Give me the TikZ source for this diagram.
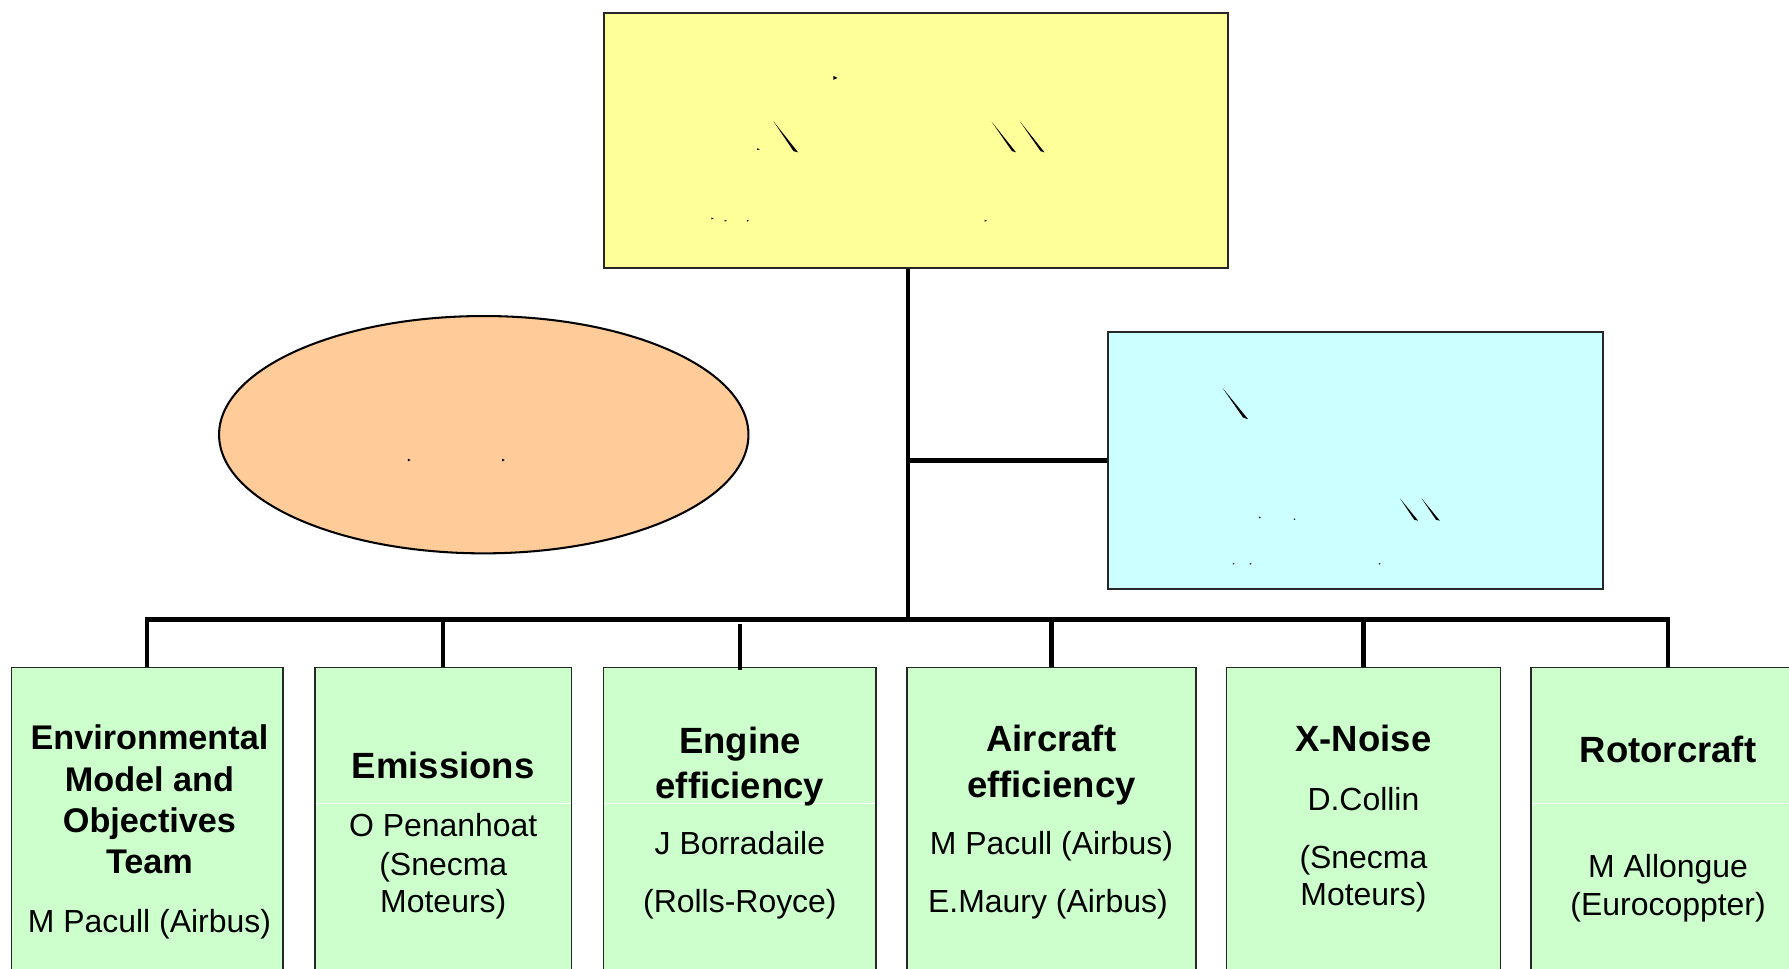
\documentclass[tikz,border=0pt]{standalone}
\usepackage{fontspec}
\setmainfont{Liberation Sans}
\usetikzlibrary{shapes.geometric,fit,calc}
\definecolor{boardyellow}{RGB}{255,255,153}
\definecolor{advisorycyan}{RGB}{204,255,255}
\definecolor{forumpeach}{RGB}{255,204,153}
\definecolor{teamgreen}{RGB}{204,255,204}
\begin{document}
\begin{tikzpicture}[x=0.5pt,y=-0.5pt,
  conn/.style={line width=1.9pt, line join=miter},
  panel/.style={draw=black!85, line width=0.9pt, inner sep=0pt},
  team/.style={draw=black!85, line width=0.7pt, fill=teamgreen, inner sep=0pt},
  title/.style={font=\bfseries\fontsize{16}{19}\selectfont, anchor=base, inner sep=0pt},
  titlesmall/.style={font=\bfseries\fontsize{15}{18}\selectfont, anchor=base, inner sep=0pt},
  person/.style={font=\fontsize{14}{17}\selectfont, anchor=base, inner sep=0pt},
  sepline/.style={draw=white, line width=0.6pt},
  glyphbit/.style={fill=black}]
\useasboundingbox (0,0) rectangle (1568,849);
\clip (0,0) rectangle (1568,849);

% upper level: board, forum and advisory group
\node[panel, fill=boardyellow, fit={(529,11)(1076,235)}] (board) {};
\node[panel, fill=advisorycyan, fit={(971,291)(1405,516)}] (advisory) {};
\node[ellipse, draw=black, line width=0.9pt, fill=forumpeach, inner sep=0pt,
      minimum width=232pt, minimum height=104pt] (forum) at (424,381) {};

% stray glyph fragments inside the upper shapes
\fill[glyphbit] (730.5,66.5) -- (734,68.3) -- (730.5,70) -- cycle;
\fill[glyphbit] (663.5,130) -- (666,130.8) -- (663.5,131.6) -- cycle;
\fill[glyphbit] (678,106.5) -- (699.5,133.5) -- (695.5,132.5) -- cycle;
\fill[glyphbit] (869,106.5) -- (890.5,133.5) -- (887,132.5) -- cycle;
\fill[glyphbit] (894,106.5) -- (915.5,133.5) -- (912,132.5) -- cycle;
\foreach \gx/\gy in {623.5/191.5, 635/193.5, 654.5/193.5, 863/193.5}
  \fill[glyphbit] (\gx,\gy-0.8) -- (\gx+2,\gy) -- (\gx,\gy+0.8) -- cycle;
\fill[glyphbit] (1071.5,340) -- (1094,367.5) -- (1089.5,366) -- cycle;
\fill[glyphbit] (1227,436.8) -- (1243,456.4) -- (1239.5,455.5) -- cycle;
\fill[glyphbit] (1246,436.8) -- (1262,456.4) -- (1258.5,455.5) -- cycle;
\foreach \gx/\gy in {1103.5/453.5, 1134/455, 1080.5/494.2, 1095.5/494.2, 1208.5/494.2}
  \fill[glyphbit] (\gx,\gy-0.7) -- (\gx+1.6,\gy) -- (\gx,\gy+0.7) -- cycle;
\foreach \gx in {357.5, 440}
  \fill[glyphbit] (\gx,402) -- (\gx+2.5,403.2) -- (\gx,404.4) -- cycle;

% working groups
\node[team, fit={(10,585)(248,880)}] (b1) {};
\node[team, fit={(276,585)(501,880)}] (b2) {};
\node[team, fit={(529,585)(768,880)}] (b3) {};
\node[team, fit={(795,585)(1048,880)}] (b4) {};
\node[team, fit={(1075,585)(1315,880)}] (b5) {};
\node[team, fit={(1342,585)(1582,880)}] (b6) {};

% thin separators under some titles
\coordinate (sepy) at (0,704);
\foreach \b in {b2,b3,b6}
  \draw[sepline] ($(\b.west |- sepy)+(1.5,0)$) -- ($(\b.east |- sepy)+(-1.5,0)$);

% connectors
\coordinate (hub) at (796,543);
\draw[conn] (hub |- board.south) -- (hub);
\draw[conn] (hub |- advisory.west) -- (advisory.west);
\draw[conn] (b1.north) -- (b1.north |- hub) -- (b6.north |- hub) -- (b6.north);
\draw[conn] (b2.north) -- (b2.north |- hub);
\draw[conn] ($(b3.north)+(0,3)$) -- ($(b3.north |- hub)+(0,4)$);
\draw[conn] (b4.north) -- (b4.north |- hub);
\draw[conn] (b5.north) -- (b5.north |- hub);

% texts
\node[titlesmall] (t1a) at (131,657.0) {Environmental};
\node[titlesmall] (t1b) at (131,693.7) {Model and};
\node[titlesmall] (t1c) at (131,729.4) {Objectives};
\node[titlesmall] (t1d) at (131,766.0) {Team};
\node[person] (p1a) at (131,817.4) {M Pacull (Airbus)};

\node[title] (t2a) at (388.5,682.3) {Emissions};
\node[person] (p2a) at (388.5,733.2) {O Penanhoat};
\node[person] (p2b) at (388.5,767.4) {(Snecma};
\node[person] (p2c) at (388.5,800.0) {Moteurs)};

\node[title] (t3a) at (648.5,660.0) {Engine};
\node[title] (t3b) at (648.5,699.5) {efficiency};
\node[person] (p3a) at (648.5,749.1) {J Borradaile};
\node[person] (p3b) at (648.5,800.0) {(Rolls-Royce)};

\node[title] (t4a) at (921.5,659.0) {Aircraft};
\node[title] (t4b) at (921.5,698.8) {efficiency};
\node[person] (p4a) at (921.5,749.1) {M Pacull (Airbus)};
\node[person] (p4b) at (918.5,800.0) {E.Maury (Airbus)};

\node[title] (t5a) at (1195,658.5) {X-Noise};
\node[person] (p5a) at (1195,710.5) {D.Collin};
\node[person] (p5b) at (1195,760.8) {(Snecma};
\node[person] (p5c) at (1195,793.5) {Moteurs)};

\node[title] (t6a) at (1462,668.3) {Rotorcraft};
\node[person] (p6a) at (1462,769.5) {M Allongue};
\node[person] (p6b) at (1462,802.3) {(Eurocoppter)};
\end{tikzpicture}
\end{document}
